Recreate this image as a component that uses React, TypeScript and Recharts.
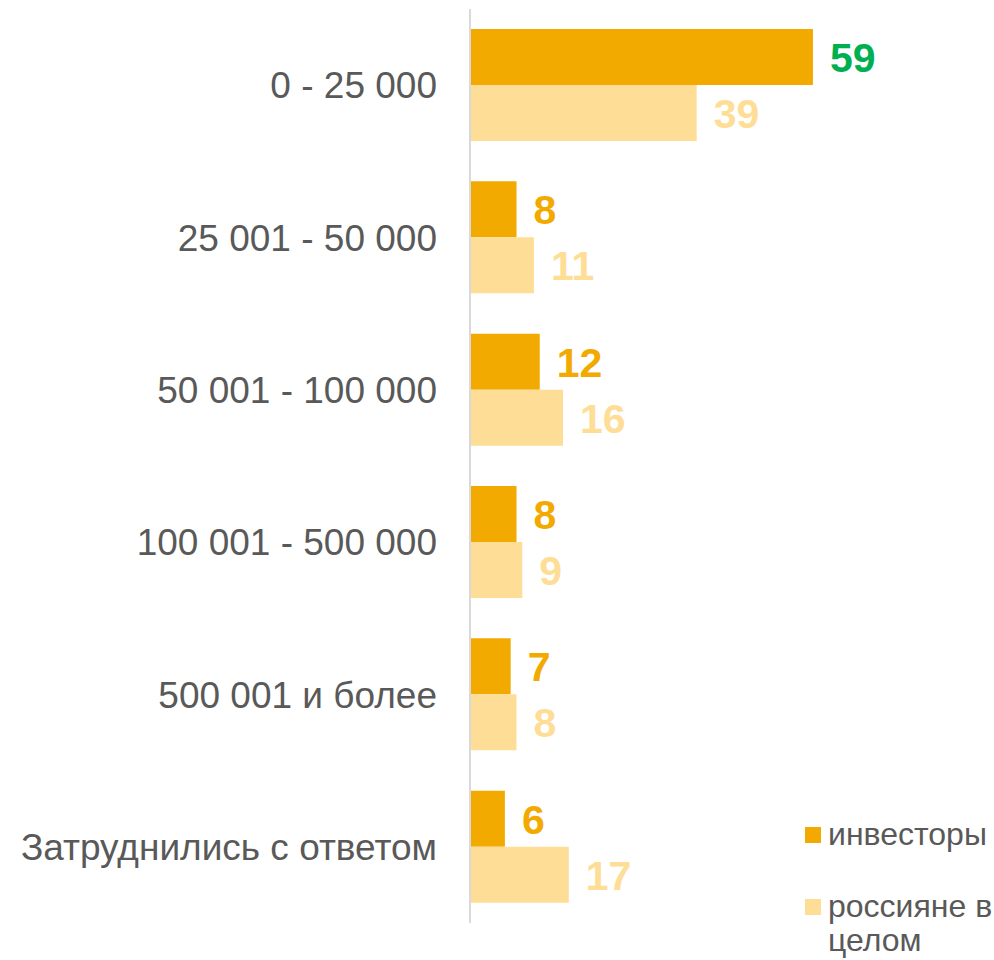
import React from "react";
import { BarChart, Bar, XAxis, YAxis, LabelList } from "recharts";

const categories = [
  "0 - 25 000",
  "25 001 - 50 000",
  "50 001 - 100 000",
  "100 001 - 500 000",
  "500 001 и более",
  "Затруднились с ответом",
];
const investors = [59, 8, 12, 8, 7, 6];
const russians = [39, 11, 16, 9, 8, 17];
const seriesNames = ["инвесторы", "россияне в целом"];

const DARK = "#F2AA00";
const LIGHT = "#FEDE96";
const GREEN = "#00B050";
const TEXT = "#595959";
const FONT = "'Liberation Sans', Arial, sans-serif";

const data = categories.map((c, i) => ({ name: c, inv: investors[i], rus: russians[i] }));

const CategoryTick = (props: any) => {
  const { x, y, payload } = props;
  return (
    <text x={x} y={y} dy={13} textAnchor="end" fill={TEXT} fontSize={37} fontFamily={FONT}>
      {payload.value}
    </text>
  );
};

const makeLabel = (color: string, maxColor?: string) => (props: any) => {
  const { x, y, width, height, value } = props;
  const max = Math.max(...investors);
  const fill = maxColor && value === max ? maxColor : color;
  return (
    <text
      x={x + width + 17}
      y={y + height / 2}
      dy={15}
      fill={fill}
      fontSize={41}
      fontWeight="bold"
      fontFamily={FONT}
    >
      {value}
    </text>
  );
};

const LegendBox = () => (
  <div
    style={{
      position: "absolute",
      left: 805,
      top: 817,
      width: 189,
      fontFamily: FONT,
      fontSize: 32,
      color: TEXT,
      lineHeight: "34px",
    }}
  >
    <div style={{ display: "flex", alignItems: "flex-start", marginBottom: 38 }}>
      <span style={{ width: 16, height: 16, background: DARK, marginTop: 10, marginRight: 7, flexShrink: 0 }} />
      <span>{seriesNames[0]}</span>
    </div>
    <div style={{ display: "flex", alignItems: "flex-start" }}>
      <span style={{ width: 16, height: 16, background: LIGHT, marginTop: 10, marginRight: 7, flexShrink: 0 }} />
      <span style={{ width: 166 }}>{seriesNames[1]}</span>
    </div>
  </div>
);

export default function App() {
  return (
    <div style={{ position: "absolute", left: 0, top: 0, width: 994, height: 960, background: "#fff" }}>
      <BarChart
        width={994}
        height={960}
        data={data}
        layout="vertical"
        margin={{ top: 9, right: 59, left: 0, bottom: 37 }}
        barGap={0}
      >
        <XAxis type="number" domain={[0, 80]} hide />
        <YAxis
          type="category"
          dataKey="name"
          width={470}
          axisLine={{ stroke: "#D9D9D9", strokeWidth: 2 }}
          tickLine={false}
          tickMargin={27}
          tick={<CategoryTick />}
          interval={0}
        />
        <Bar dataKey="inv" name={seriesNames[0]} fill={DARK} barSize={56} isAnimationActive={false}>
          <LabelList dataKey="inv" content={makeLabel(DARK, GREEN)} />
        </Bar>
        <Bar dataKey="rus" name={seriesNames[1]} fill={LIGHT} barSize={56} isAnimationActive={false}>
          <LabelList dataKey="rus" content={makeLabel(LIGHT)} />
        </Bar>
      </BarChart>
      <LegendBox />
    </div>
  );
}
